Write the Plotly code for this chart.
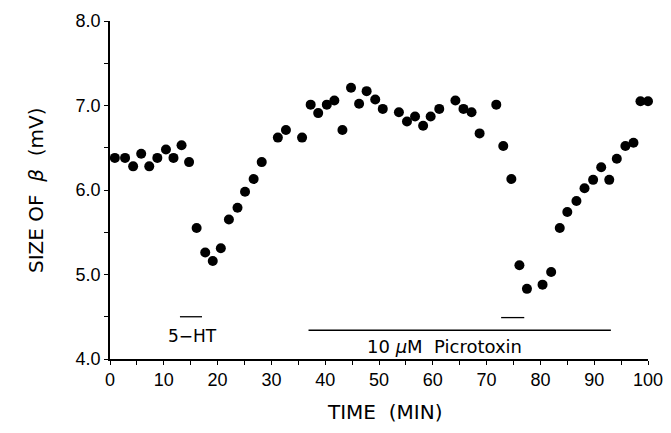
import plotly.graph_objects as go

time_min = [0.9, 2.8, 4.3, 5.8, 7.3, 8.8, 10.4, 11.8, 13.3, 14.7,
            16.1, 17.7, 19.1, 20.6, 22.1, 23.7, 25.1, 26.7, 28.2,
            31.2, 32.7, 35.7, 37.3, 38.7, 40.3, 41.7, 43.2, 44.8, 46.3,
            47.7, 49.3, 50.7, 53.7, 55.2, 56.7, 58.2, 59.6, 61.2, 64.2,
            65.7, 67.2, 68.7, 71.8, 73.1, 74.6, 76.1, 77.5, 80.4, 82.0,
            83.6, 85.0, 86.7, 88.2, 89.8, 91.3, 92.8, 94.2, 95.8, 97.3,
            98.6, 100.0]
beta_mv = [6.38, 6.38, 6.28, 6.43, 6.28, 6.38, 6.48, 6.38, 6.53, 6.33,
           5.55, 5.26, 5.16, 5.31, 5.65, 5.79, 5.98, 6.13, 6.33,
           6.62, 6.71, 6.62, 7.01, 6.91, 7.01, 7.06, 6.71, 7.21, 7.02,
           7.17, 7.07, 6.96, 6.92, 6.81, 6.87, 6.76, 6.87, 6.96, 7.06,
           6.96, 6.92, 6.67, 7.01, 6.52, 6.13, 5.11, 4.83, 4.88, 5.03,
           5.55, 5.74, 5.87, 6.02, 6.12, 6.27, 6.12, 6.37, 6.52, 6.56,
           7.05, 7.05]

x_tickvals = [0, 5, 10, 15, 20, 25, 30, 35, 40, 45, 50, 55, 60, 65, 70, 75, 80, 85, 90, 95, 100]
x_ticktext = ["0", "", "10", "", "20", "", "30", "", "40", "", "50", "", "60", "", "70", "", "80", "", "90", "", "100"]
y_tickvals = [4.0, 4.5, 5.0, 5.5, 6.0, 6.5, 7.0, 7.5, 8.0]
y_ticktext = ["4.0", "", "5.0", "", "6.0", "", "7.0", "", "8.0"]

# application bars: (start, end, level)
ht_bars = [(13.0, 17.1, 4.50), (72.7, 77.0, 4.49)]
picro_bar = (36.9, 93.1, 4.34)

TICKFONT = "Liberation Sans, Arial, sans-serif"
TEXTFONT = "DejaVu Sans, sans-serif"

# page body has an 8px default margin; size the figure to fit inside the window
OFF = 8
W, H = 663, 425
ML, MT = 102, 13
PW, PH = 538, 338
MR, MB = W - ML - PW, H - MT - PH

fig = go.Figure()
fig.add_trace(go.Scatter(
    x=time_min, y=beta_mv, mode="markers",
    marker=dict(color="black", size=10, line=dict(width=0)),
    cliponaxis=False, showlegend=False))

for (x0, x1, yv) in ht_bars + [picro_bar]:
    fig.add_trace(go.Scatter(x=[x0, x1], y=[yv, yv], mode="lines",
                             line=dict(color="black", width=1.3),
                             showlegend=False, hoverinfo="skip", cliponaxis=False))

fig.add_annotation(x=15.3, y=4.27, text="5\u2212HT", showarrow=False,
                   font=dict(family=TEXTFONT, size=17, color="black"))
fig.add_annotation(x=62.2, y=4.15, text="10 <i>\u03bc</i>M  Picrotoxin", showarrow=False,
                   font=dict(family=TEXTFONT, size=18, color="black"))

# axis titles placed as paper annotations (page pixel targets minus body offset)
fig.add_annotation(xref="paper", yref="paper",
                   x=(36 - OFF - ML) / PW, y=(H - MB - (190 - OFF)) / PH,
                   text="SIZE OF  <i>\u03b2</i>  (mV)", textangle=-90, showarrow=False,
                   xanchor="center", yanchor="middle",
                   font=dict(family=TEXTFONT, size=20, color="black"))
fig.add_annotation(xref="paper", yref="paper",
                   x=(384 - OFF - ML) / PW, y=(H - MB - (412 - OFF)) / PH,
                   text="TIME  (MIN)", showarrow=False,
                   xanchor="center", yanchor="middle",
                   font=dict(family=TEXTFONT, size=20, color="black"))

fig.update_layout(
    width=W, height=H,
    margin=dict(l=ML, r=MR, t=MT, b=MB, pad=0),
    paper_bgcolor="white", plot_bgcolor="white",
    font=dict(family=TICKFONT, color="black", size=18),
    xaxis=dict(range=[0, 100], tickvals=x_tickvals, ticktext=x_ticktext,
               ticks="outside", ticklen=4, tickwidth=1, tickcolor="black",
               showline=True, linecolor="black", linewidth=1.5,
               showgrid=False, zeroline=False, automargin=False,
               tickfont=dict(size=18)),
    yaxis=dict(range=[4, 8], tickvals=y_tickvals, ticktext=y_ticktext,
               ticks="outside", ticklen=4, tickwidth=1, tickcolor="black",
               showline=True, linecolor="black", linewidth=1.5,
               showgrid=False, zeroline=False, automargin=False,
               tickfont=dict(size=18)),
)

fig.write_html("out.html")
